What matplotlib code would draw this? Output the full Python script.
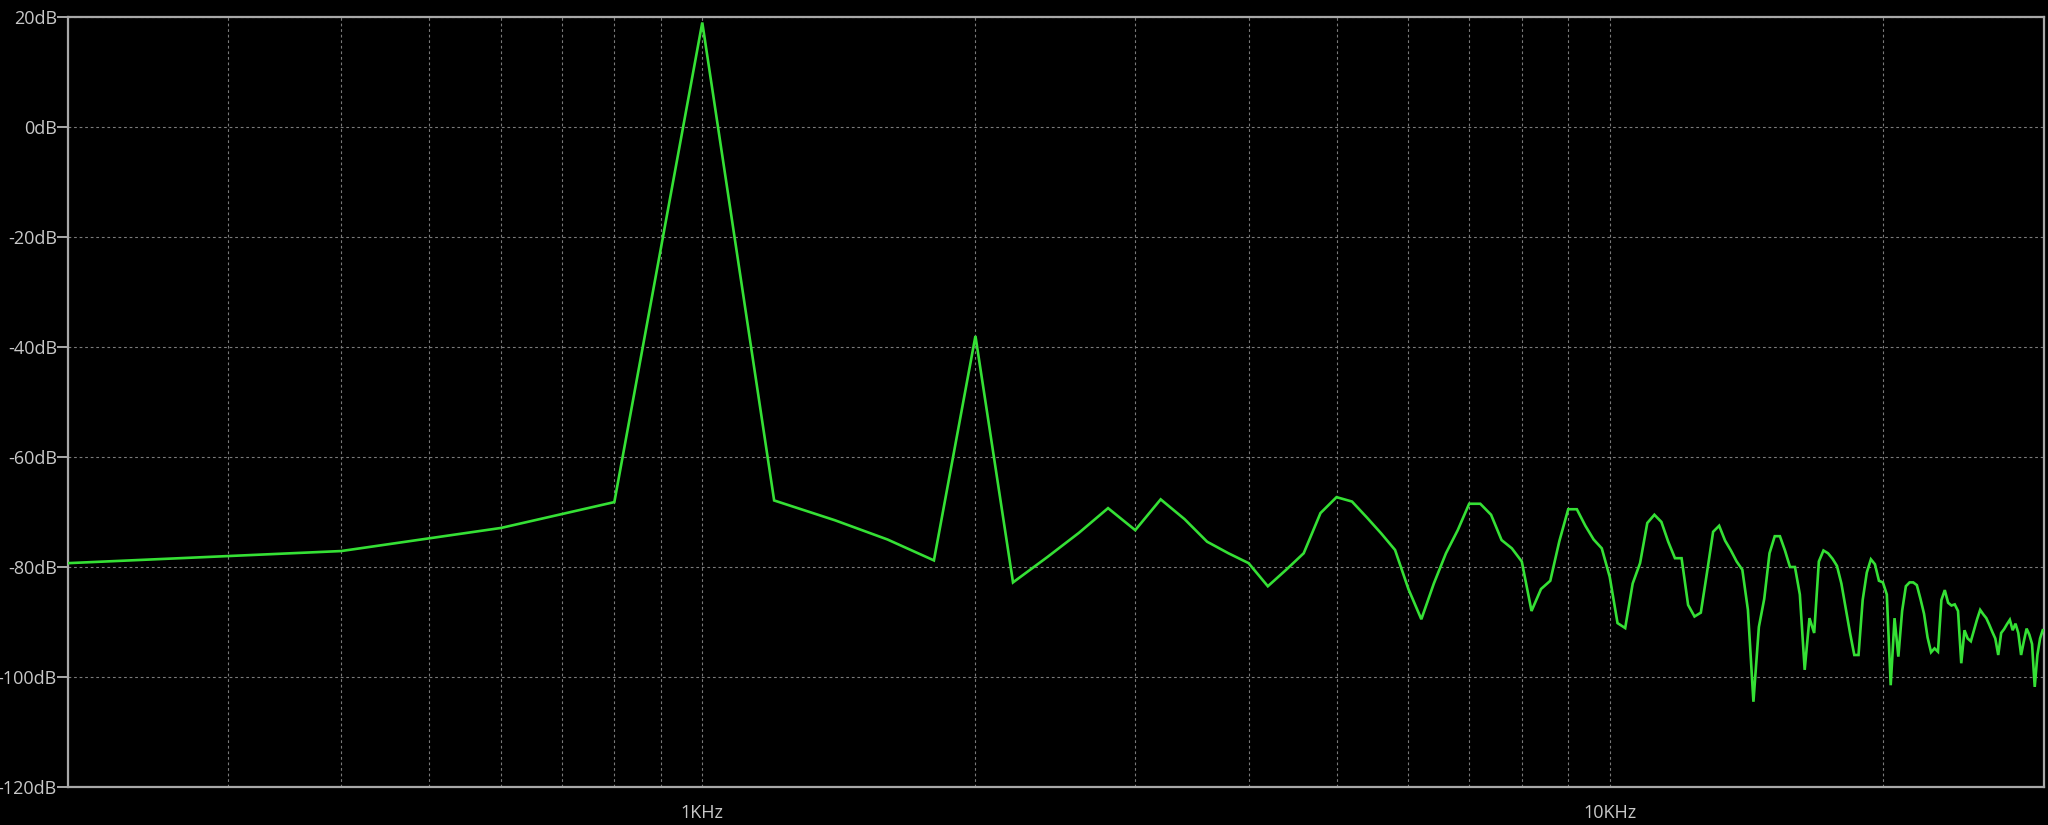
import numpy as np
import matplotlib
matplotlib.use("Agg")
import matplotlib.pyplot as plt
from matplotlib.ticker import FixedLocator, NullFormatter

# FFT bins (200 Hz spacing) and magnitudes
bin_step = 200
n_bins = 150
freqs = np.arange(1, n_bins + 1) * bin_step

mag_db = [
    -79.3, -77.1, -72.9, -68.2, 19.0, -67.9, -71.5, -75.0, -78.8, -38.0,
    -82.8, -78.2, -73.8, -69.3, -73.3, -67.7, -71.3, -75.4, -77.5, -79.3,
    -83.5, -80.5, -77.5, -70.2, -67.3, -68.1, -71.0, -73.9, -76.9, -84.0,
    -89.5, -83.0, -77.5, -73.3, -68.5, -68.5, -70.5, -75.1, -76.6, -79.0,
    -88.0, -84.0, -82.5, -75.3, -69.5, -69.5, -72.5, -75.0, -76.6, -81.8,
    -90.2, -91.1, -83.0, -79.3, -72.0, -70.5, -71.8, -75.4, -78.4, -78.4,
    -86.9, -89.0, -88.3, -81.0, -73.6, -72.5, -75.2, -77.0, -79.0, -80.5,
    -87.8, -104.5, -90.9, -85.8, -77.5, -74.4, -74.4, -77.0, -80.0, -80.0,
    -85.0, -98.7, -89.3, -92.0, -79.0, -77.0, -77.5, -78.5, -79.8, -83.0,
    -87.5, -92.0, -96.0, -96.0, -86.0, -81.0, -78.6, -79.5, -82.5, -82.8,
    -85.0, -101.5, -89.3, -96.3, -88.0, -83.5, -82.8, -82.8, -83.3, -85.8,
    -88.5, -92.8, -95.5, -94.8, -95.4, -86.0, -84.2, -86.5, -87.0, -86.8,
    -88.0, -97.5, -91.5, -93.0, -93.5, -91.5, -89.5, -87.8, -88.6, -89.3,
    -90.5, -91.8, -93.0, -96.0, -92.0, -91.3, -90.4, -89.6, -91.5, -90.3,
    -92.0, -96.0, -93.5, -91.2, -92.3, -94.0, -101.8, -96.0, -93.0, -91.5,
]

# Axis ticks
y_ticks = [20, 0, -20, -40, -60, -80, -100, -120]
x_major = [1000, 10000]
x_major_labels = ["1KHz", "10KHz"]
x_minor = [300, 400, 500, 600, 700, 800, 900,
           2000, 3000, 4000, 5000, 6000, 7000, 8000, 9000, 20000]

plt.rcParams['font.family'] = ['Open Sans', 'DejaVu Sans']

W, H = 2048, 825
fig = plt.figure(figsize=(W / 100, H / 100), dpi=100, facecolor='black')
ax = fig.add_axes([68 / W, 1 - 787 / H, (2044 - 68) / W, (787 - 17) / H])
ax.set_facecolor('black')

grid_col = '#7a7a7a'
frame_col = '#a8a8a8'
text_col = '#c8c8c8'

ax.plot(freqs, mag_db, color='#35e035', lw=1.9, solid_joinstyle='miter', zorder=3)

ax.set_xscale('log')
ax.set_xlim(200, 30100)
ax.set_ylim(-120, 20)

ax.xaxis.set_major_locator(FixedLocator(x_major))
ax.xaxis.set_minor_locator(FixedLocator(x_minor))
ax.xaxis.set_minor_formatter(NullFormatter())
ax.set_xticklabels(x_major_labels)
ax.set_yticks(y_ticks)
ax.set_yticklabels([f"{v}dB" for v in y_ticks])

ax.grid(True, which='both', axis='x', color=grid_col, lw=0.8, ls=(0, (2.5, 2.5)))
ax.grid(True, which='major', axis='y', color=grid_col, lw=0.8, ls=(0, (2.5, 2.5)))

ax.tick_params(axis='y', colors=frame_col, labelcolor=text_col, length=8, width=1.4,
               pad=0, labelsize=13)
ax.tick_params(axis='x', which='major', colors=frame_col, labelcolor=text_col, length=0,
               pad=12, labelsize=13)
ax.tick_params(axis='x', which='minor', length=0)

for s in ax.spines.values():
    s.set_color(frame_col)
    s.set_linewidth(1.6)

fig.savefig('out.png', dpi=100, facecolor='black')
